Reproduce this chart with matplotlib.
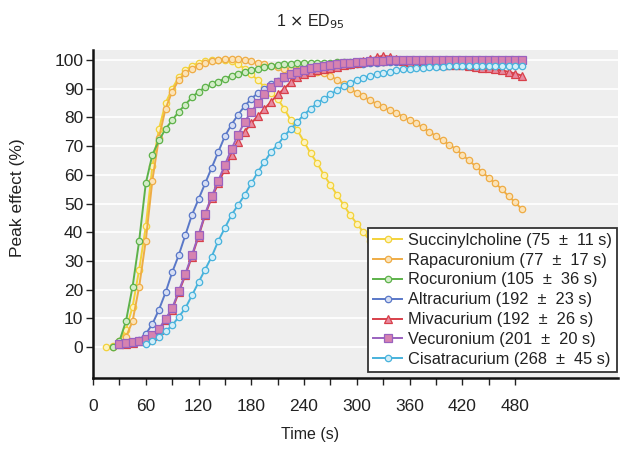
import numpy as np
import matplotlib
matplotlib.use('Agg')
import matplotlib.pyplot as plt

plt.rcParams['font.family'] = ['Liberation Sans', 'DejaVu Sans']

STEP = 7.5  # sampling interval (s)

names = ['Succinylcholine (75  ±  11 s)',
         'Rapacuronium (77  ±  17 s)',
         'Rocuronium (105  ±  36 s)',
         'Altracurium (192  ±  23 s)',
         'Mivacurium (192  ±  26 s)',
         'Vecuronium (201  ±  20 s)',
         'Cisatracurium (268  ±  45 s)']

starts = [15, 22.5, 22.5, 30, 30, 30, 60]

succ = [0, 0.5, 2, 6, 14, 27, 42, 63, 76, 85,
        90, 94, 96.5, 98, 99, 99.5, 100, 100, 100, 99.5,
        98.5, 97, 95, 93, 90.5, 88.5, 86.5, 83, 79, 75.5,
        71.5, 67.5, 64, 60, 56.5, 53, 49.5, 46, 43, 40,
        37, 33.5, 30]

rapa = [0, 1, 3.5, 9, 21, 37, 58, 73, 83, 89,
        93, 95.5, 97, 98, 99, 99.5, 100, 100.5, 100.5, 100.5,
        100, 99.5, 99, 98.5, 98, 97.5, 97, 96.8, 96.5, 96.3,
        96, 95.8, 95.5, 94.5, 93, 91.5, 90, 88.5, 87.3, 86,
        84.7, 83.5, 82.5, 81.5, 80.3, 79, 78, 76.5, 75, 73.5,
        72, 70.5, 69, 67, 65, 63, 61, 59, 57, 55,
        52.5, 50.5, 48]

rocu = [0, 2, 9, 21, 37, 57, 67, 72, 76, 79,
        82, 84.5, 87, 89, 90.5, 91.5, 92.5, 93.5, 94.5, 95.3,
        96, 96.5, 97, 97.5, 98, 98.3, 98.5, 98.7, 98.8, 98.9,
        99, 99, 99.1, 99.1, 99.2, 99.2, 99.3, 99.3, 99.3, 99.4,
        99.4, 99.4, 99.5, 99.5, 99.5, 99.5, 99.5, 99.5, 99.5, 99.4,
        99.4, 99.3, 99.3, 99.2, 99.2, 99.1, 99.1, 99, 99, 99,
        98.9, 98.9, 98.8]

atra = [1, 1, 1.5, 2.5, 4.5, 8, 13, 19, 26, 32,
        39, 46, 51.5, 57, 62.5, 68, 73.5, 77.5, 81, 84,
        86.5, 88.5, 90, 91.5, 92.7, 93.8, 94.7, 95.4, 96, 96.5,
        97, 97.3, 97.6, 97.9, 98.1, 98.3, 98.5, 98.7, 98.9, 99,
        99.2, 99.3, 99.4, 99.5, 99.6, 99.6, 99.7, 99.7, 99.7, 99.8,
        99.8, 99.8, 99.8, 99.8, 99.8, 99.8, 99.8, 99.8, 99.8, 99.8,
        99.8, 99.8]

miva = [1, 1.2, 1.5, 2, 2.5, 4, 6, 9.5, 13, 19,
        25, 31.5, 38.5, 46, 52, 57, 62, 67, 71.5, 75,
        78, 80.5, 83, 85.5, 88, 90, 92.5, 94, 95, 95.8,
        96.4, 96.9, 97.3, 97.7, 98.1, 98.6, 99.1, 99.7, 100.4, 101,
        101.5, 101.2, 100.3, 99.6, 99.2, 99, 98.8, 98.6, 98.5, 98.4,
        98.3, 98.2, 98.1, 97.9, 97.7, 97.4, 97.1, 96.8, 96.4, 95.9,
        95.3, 94.6]

vecu = [1.2, 1.3, 1.6, 2, 2.7, 4.2, 6.3, 9.8, 13.5, 19.5,
        25.5, 32, 39, 46.5, 52.5, 58, 63.5, 69, 74, 78.5,
        82, 85, 88, 90.5, 92.5, 94, 95.2, 96, 96.6, 97.1,
        97.5, 97.9, 98.2, 98.5, 98.8, 99, 99.2, 99.4, 99.6, 99.7,
        99.8, 99.9, 100, 100, 100, 100, 100, 100, 100, 100,
        100, 100, 100, 100, 100, 100, 100, 100, 100, 100,
        100, 100]

cisa = [1, 2, 3.5, 5.5, 7.5, 10.5, 13.5, 18, 22.5, 27,
        31.5, 37, 41.5, 46, 49.5, 53, 57, 61, 64.5, 68,
        70.5, 73.5, 76, 78.5, 81, 83, 85, 86.5, 88, 89.5,
        91, 92, 93, 93.8, 94.5, 95, 95.5, 96, 96.5, 96.8,
        97, 97.2, 97.4, 97.5, 97.6, 97.7, 97.8, 97.8, 97.9, 97.9,
        98, 98, 98, 98, 98, 98, 98, 98]

series = [succ, rapa, rocu, atra, miva, vecu, cisa]
colors = ['#f3d23a', '#eeac45', '#5db24a', '#5a78c8', '#d8404a', '#9a62bf', '#47b2dc']
faces = ['#fdf3c0', '#fbe3b8', '#d3ecc8', '#d6def3', '#e88aa0', '#d683b0', '#d3eef8']
markers = ['o', 'o', 'o', 'o', '^', 's', 'o']

fig = plt.figure(figsize=(6.21, 4.5), dpi=100)
ax = fig.add_axes([93 / 621, 72 / 450, 525 / 621, 328 / 450])
ax.set_facecolor('#eeeeee')

for name, vals, st, c, fc, m in zip(names, series, starts, colors, faces, markers):
    t = st + STEP * np.arange(len(vals))
    ax.plot(t, vals, color=c, lw=1.4, marker=m, ms=4.6 if m == 'o' else 5.2,
            mfc=fc, mec=c, mew=0.9, label=name)

ax.set_xlim(0, 597)
ax.set_ylim(-10.8, 103.5)
ax.set_yticks(np.arange(0, 101, 10))
ax.set_xticks(np.arange(0, 481, 60))
ax.set_xticks(np.arange(30, 481, 60), minor=True)
ax.yaxis.grid(True, color='white', lw=1.2)
ax.set_axisbelow(True)

for s in ['top', 'right']:
    ax.spines[s].set_visible(False)
for s in ['left', 'bottom']:
    ax.spines[s].set_linewidth(1.8)
    ax.spines[s].set_color('#111111')

ax.tick_params(axis='both', which='both', direction='out', length=5, width=1,
               color='#222222', labelsize=12.5, labelcolor='#222222')
ax.tick_params(axis='x', which='both', pad=10)
ax.tick_params(axis='y', pad=2)

ax.set_xlabel('Time (s)', fontsize=11.5, color='#222222')
ax.xaxis.set_label_coords((310 - 93) / 525, -0.15)
fig.text(18 / 621, 1 - 198 / 450, 'Peak effect (%)', rotation=90, fontsize=12.5,
         color='#222222', ha='center', va='center')
fig.text(310 / 621, 1 - 22 / 450, '1 $\\times$ ED$_{95}$', fontsize=11.5,
         color='#222222', ha='center', va='center')

leg = ax.legend(loc='lower right', bbox_to_anchor=(617 / 621, 78 / 450),
                bbox_transform=fig.transFigure, borderaxespad=0,
                fancybox=False, framealpha=1, edgecolor='#333333',
                fontsize=11.8, handlelength=1.8, handletextpad=0.35,
                labelspacing=0.3, borderpad=0.3, labelcolor='#222222')
leg.get_frame().set_linewidth(1.3)
leg.set_zorder(10)

fig.savefig('out.png', dpi=100)
